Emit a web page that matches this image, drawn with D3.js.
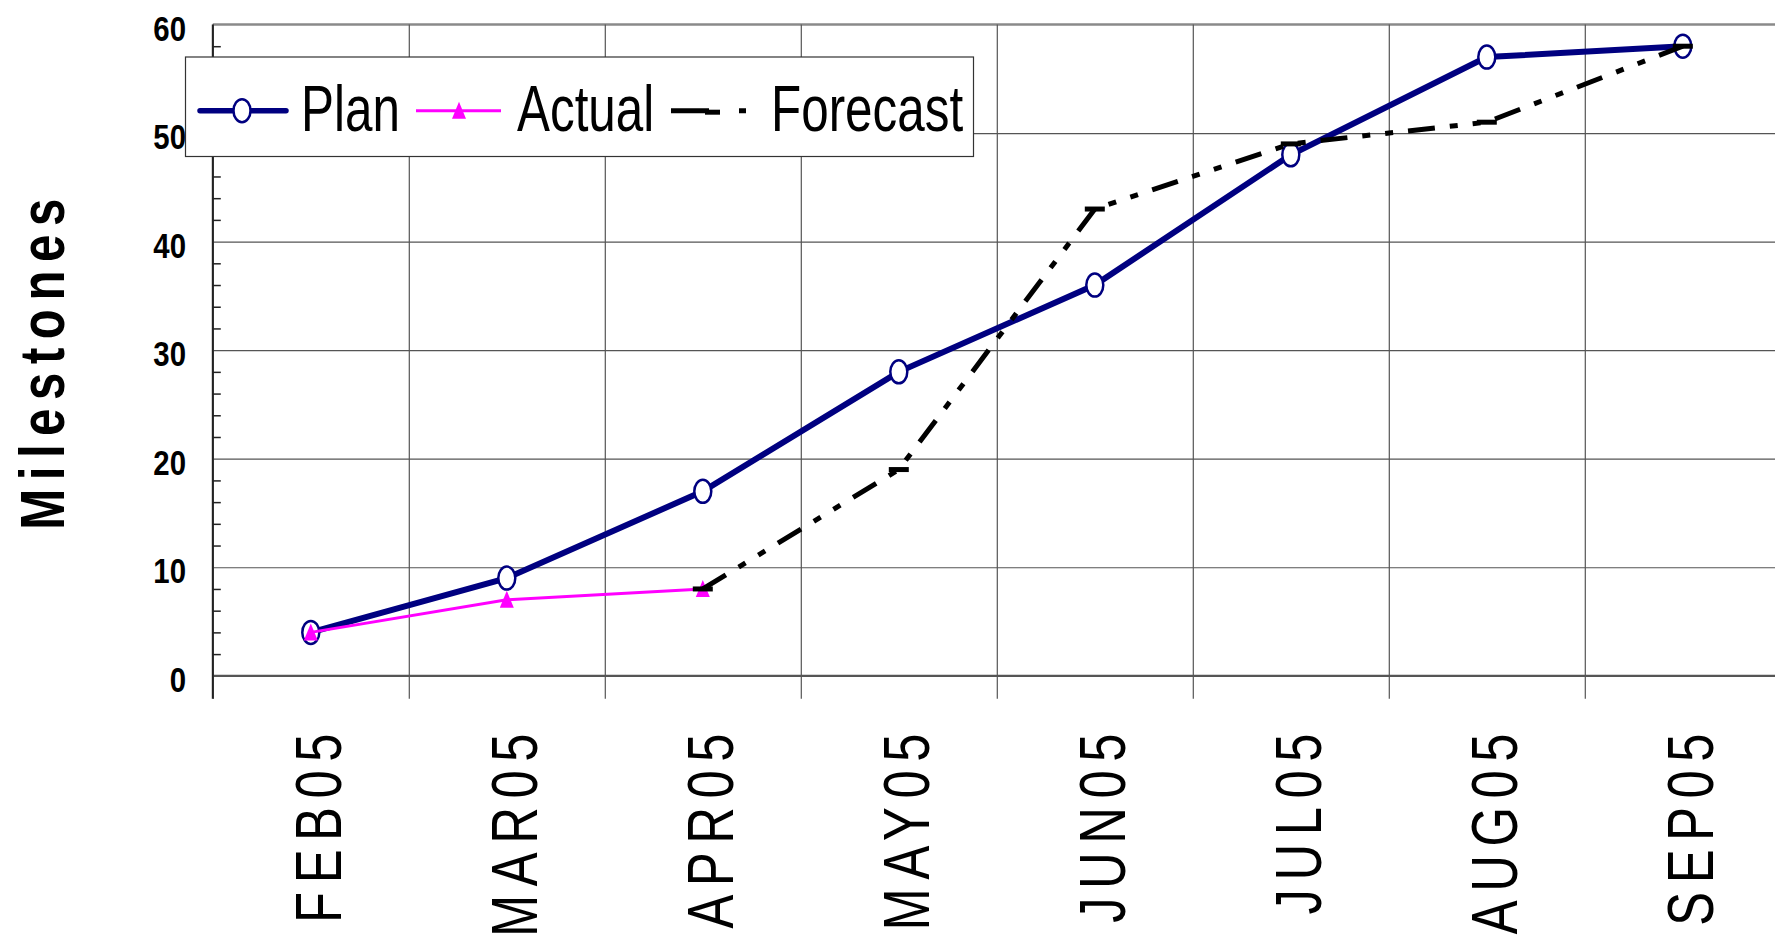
<!DOCTYPE html>
<html>
<head>
<meta charset="utf-8">
<script src="https://cdn.jsdelivr.net/npm/d3@7/dist/d3.min.js"></script>
<style>
  body { margin: 0; background: #fff; }
  svg { display: block; }
  text { font-family: "Liberation Sans", Arial, sans-serif; }
</style>
</head>
<body>
<div id="chart"></div>
<script>
// Chart data
const categories = ["FEB05", "MAR05", "APR05", "MAY05", "JUN05", "JUL05", "AUG05", "SEP05"];
const planValues = [4, 9, 17, 28, 36, 48, 57, 58];
const actualValues = [4, 7, 8];
const forecastValues = [null, null, 8, 19, 43, 49, 51, 58];
const yTickValues = [0, 10, 20, 30, 40, 50, 60];
const seriesNames = ["Plan", "Actual", "Forecast"];

// Size of the picture and the plot area
const width = 1775, height = 941;
const plotLeft = 212.8, bandWidth = 196;
const plotRight = plotLeft + categories.length * bandWidth;
const plotTop = 24.5, plotBottom = 675.8;
const tickBottom = plotBottom + 23;

// The fonts in the picture are narrow, so we squeeze the text sideways
const narrow = 0.78;

const svg = d3.select("#chart").append("svg")
    .attr("width", width)
    .attr("height", height);

// Scales
const x = d3.scaleBand().domain(categories).range([plotLeft, plotRight]).padding(0);
const xEdge = d3.scaleLinear().domain([0, categories.length]).range([plotLeft, plotRight]);
const y = d3.scaleLinear().domain([0, 60]).range([plotBottom, plotTop]);
const cx = d => x(d) + x.bandwidth() / 2;

// Horizontal grid lines (10..50)
svg.append("g")
    .attr("transform", `translate(${plotLeft},0)`)
    .call(d3.axisLeft(y).tickValues(yTickValues.filter(v => v > 0 && v < 60)).tickSize(-(plotRight - plotLeft)).tickFormat(""))
    .call(g => g.select(".domain").remove())
    .call(g => g.selectAll("line").attr("stroke", "#555").attr("stroke-width", 1.2));

// Top border of the plot area
svg.append("line")
    .attr("x1", plotLeft).attr("x2", width)
    .attr("y1", y(60)).attr("y2", y(60))
    .attr("stroke", "#8a8a8a").attr("stroke-width", 2.5);

// Vertical grid lines, running down past the axis as ticks
svg.append("g")
    .attr("transform", `translate(0,${tickBottom})`)
    .call(d3.axisBottom(xEdge).ticks(categories.length).tickSize(-(tickBottom - plotTop)).tickFormat(""))
    .call(g => g.select(".domain").remove())
    .call(g => g.selectAll("line").attr("stroke", "#555").attr("stroke-width", 1.2));

// Zero line
svg.append("line")
    .attr("x1", plotLeft).attr("x2", width)
    .attr("y1", y(0)).attr("y2", y(0))
    .attr("stroke", "#555").attr("stroke-width", 2.2);

// Y axis line with small inner ticks every 2
svg.append("line")
    .attr("x1", plotLeft).attr("x2", plotLeft)
    .attr("y1", y(60)).attr("y2", tickBottom)
    .attr("stroke", "#222").attr("stroke-width", 2);

svg.append("g")
    .attr("transform", `translate(${plotLeft},0)`)
    .call(d3.axisRight(y).tickValues(d3.range(2, 60, 2).filter(v => v % 10 !== 0)).tickSize(8).tickFormat(""))
    .call(g => g.select(".domain").remove())
    .call(g => g.selectAll("line").attr("stroke", "#222").attr("stroke-width", 1.5));

// Y tick labels
svg.append("g").selectAll("text")
    .data(yTickValues)
    .enter()
    .append("text")
    .attr("transform", d => `translate(186,${y(d) + 16}) scale(0.84,1)`)
    .attr("text-anchor", "end")
    .attr("font-size", 35)
    .attr("font-weight", "bold")
    .text(d => d);

// Y axis title
svg.append("text")
    .attr("transform", `translate(64,360) rotate(-90) scale(${narrow},1)`)
    .attr("text-anchor", "middle")
    .attr("font-size", 63)
    .attr("font-weight", "bold")
    .attr("letter-spacing", 11)
    .text("Milestones");

// X labels, turned up
svg.append("g").selectAll("text")
    .data(categories)
    .enter()
    .append("text")
    .attr("transform", d => `translate(${cx(d) + 30},725) rotate(-90) scale(${narrow},1)`)
    .attr("text-anchor", "end")
    .attr("font-size", 65)
    .attr("letter-spacing", 11)
    .text(d => d);

// Line generator that skips empty values
const line = d3.line()
    .defined(d => d.v != null)
    .x(d => cx(d.c))
    .y(d => y(d.v));

const planData = categories.map((c, i) => ({ c: c, v: planValues[i] }));
const actualData = actualValues.map((v, i) => ({ c: categories[i], v: v }));
const forecastData = categories.map((c, i) => ({ c: c, v: forecastValues[i] }));

const forecastDash = "27,15,8,15,8,15";

// Plan line and markers
svg.append("path")
    .datum(planData)
    .attr("d", line)
    .attr("fill", "none")
    .attr("stroke", "#000080")
    .attr("stroke-width", 6);

svg.selectAll(".plan-dot")
    .data(planData)
    .enter()
    .append("ellipse")
    .attr("cx", d => cx(d.c))
    .attr("cy", d => y(d.v))
    .attr("rx", 8.5)
    .attr("ry", 11.5)
    .attr("fill", "#fff")
    .attr("stroke", "#000080")
    .attr("stroke-width", 2.5);

// Actual line and markers
svg.append("path")
    .datum(actualData)
    .attr("d", line)
    .attr("fill", "none")
    .attr("stroke", "#ff00ff")
    .attr("stroke-width", 3);

const triangle = (px, py) => `M${px},${py - 9}L${px + 7},${py + 8}L${px - 7},${py + 8}Z`;

svg.selectAll(".actual-dot")
    .data(actualData)
    .enter()
    .append("path")
    .attr("d", d => triangle(cx(d.c), y(d.v)))
    .attr("fill", "#ff00ff");

// Forecast line and dash markers
svg.append("path")
    .datum(forecastData)
    .attr("d", line)
    .attr("fill", "none")
    .attr("stroke", "#000")
    .attr("stroke-width", 5)
    .attr("stroke-dasharray", forecastDash);

svg.selectAll(".forecast-dot")
    .data(forecastData.filter(d => d.v != null))
    .enter()
    .append("line")
    .attr("x1", d => cx(d.c) - 10)
    .attr("x2", d => cx(d.c) + 10)
    .attr("y1", d => y(d.v))
    .attr("y2", d => y(d.v))
    .attr("stroke", "#000")
    .attr("stroke-width", 5);

// Legend
const legend = svg.append("g");
legend.append("rect")
    .attr("x", 185.5).attr("y", 57)
    .attr("width", 788).attr("height", 99.5)
    .attr("fill", "#fff")
    .attr("stroke", "#333")
    .attr("stroke-width", 1.2);

const ly = 110.7;
// Plan entry
legend.append("line").attr("x1", 200).attr("x2", 286).attr("y1", ly).attr("y2", ly)
    .attr("stroke", "#000080").attr("stroke-width", 5.5).attr("stroke-linecap", "round");
legend.append("ellipse").attr("cx", 242).attr("cy", ly).attr("rx", 8.5).attr("ry", 11.5)
    .attr("fill", "#fff").attr("stroke", "#000080").attr("stroke-width", 2.5);
// Actual entry
legend.append("line").attr("x1", 416).attr("x2", 501).attr("y1", ly).attr("y2", ly)
    .attr("stroke", "#ff00ff").attr("stroke-width", 3);
legend.append("path").attr("d", triangle(459, ly)).attr("fill", "#ff00ff");
// Forecast entry
legend.append("line").attr("x1", 671).attr("x2", 756).attr("y1", ly).attr("y2", ly)
    .attr("stroke", "#000").attr("stroke-width", 5).attr("stroke-dasharray", "38,30,7,20");
legend.append("line").attr("x1", 705).attr("x2", 720).attr("y1", ly + 1.5).attr("y2", ly + 1.5)
    .attr("stroke", "#000").attr("stroke-width", 5);

const legendTextX = [301, 517, 771];
legend.selectAll(".legend-text")
    .data(seriesNames)
    .enter()
    .append("text")
    .attr("transform", (d, i) => `translate(${legendTextX[i]},130.5) scale(0.76,1)`)
    .attr("font-size", 65)
    .text(d => d);
</script>
</body>
</html>
